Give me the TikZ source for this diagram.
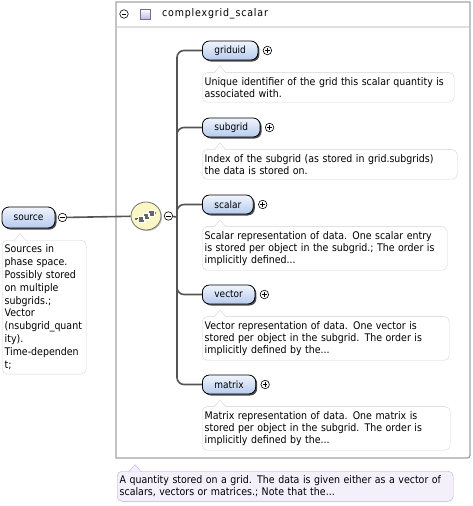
\documentclass[tikz,border=0pt]{standalone}
\usepackage{fontspec}
\setmainfont{DejaVu Sans Condensed}
\newfontfamily\headfont{DejaVu Sans Condensed}[LetterSpace=8]
\usetikzlibrary{positioning,shadows,calc,shapes.geometric}
\definecolor{elemTop}{RGB}{240,245,253}
\definecolor{elemBlue}{RGB}{182,203,238}
\definecolor{docGray}{RGB}{212,212,212}
\definecolor{frameGray}{RGB}{165,165,165}
\definecolor{wireGray}{RGB}{85,85,85}
\definecolor{seqYellow}{RGB}{251,247,196}
\definecolor{typeLilac}{RGB}{196,184,232}
\definecolor{noteLilac}{RGB}{243,240,251}
\definecolor{noteBorder}{RGB}{186,178,212}
\newcommand\notefont[1]{\fontsize{10.5}{#1}\selectfont}

\begin{document}
\begin{tikzpicture}[x=1pt, y=-1pt,
    element/.style={rectangle, draw=black, line width=0.8pt, rounded corners=7pt, top color=elemTop, bottom color=elemBlue, minimum height=19pt, inner xsep=12pt, font=\fontsize{10}{11}\selectfont, drop shadow={shadow xshift=1.5pt, shadow yshift=-1.5pt, fill=black!70, opacity=1}},
    note/.style={rectangle, draw=docGray, fill=white, rounded corners=5pt, align=left, inner xsep=2.5pt, inner ysep=4.75pt},
    notch/.style={draw=docGray, fill=white},
    toggle/.style={circle, draw=black, line width=0.6pt, fill=white, inner sep=0pt, minimum size=8.5pt},
    minusbtn/.style={toggle, path picture={\draw[line width=0.6pt] ($(path picture bounding box.center)+(-2.3,0)$) -- +(4.6,0);}},
    plusbtn/.style={toggle, path picture={\draw[line width=0.6pt] ($(path picture bounding box.center)+(-2.3,0)$) -- +(4.6,0) ($(path picture bounding box.center)+(0,-2.3)$) -- +(0,4.6);}},
    wire/.style={draw=wireGray, line width=1.6pt, rounded corners=7pt},
    frame/.style={draw=frameGray, line width=1.3pt}]

    \useasboundingbox (0,0) rectangle (473,506);

    % complexType frame
    \draw[frame] (116,458) -- (116,2) -- (470,2) -- (470,452) .. controls (470,458) .. (464,458) -- cycle;
    \draw[gray!25, line width=2pt] (117,27) -- (469,27);
    \node[minusbtn] (tminus) at (124,14) {};
    \node[rectangle, draw=typeLilac!60!black, top color=white, bottom color=typeLilac, minimum size=10pt, inner sep=0pt] (ticon) at (145,14) {};
    \node[anchor=west, inner sep=0pt, font=\headfont\fontsize{10.5}{12}\selectfont] (title) at (162,14) {complexgrid\_scalar};

    % source
    \node[element, minimum width=53pt, minimum height=21pt, inner xsep=6pt] (source) at (28.5,217.5) {source};
    \node[minusbtn, right=2.5pt of source] (sourcex) {};
    \node[note, anchor=north west, text width=79pt, font=\notefont{12.8}] (dsource) at (2,240)
        {Sources in\\phase space.\\Possibly stored\\on multiple\\subgrids.;\\Vector\\(nsubgrid\_quant\\ity).\\Time-dependen\\t;};

    % sequence
    \node[ellipse, draw=black!55, line width=0.8pt, fill=seqYellow, minimum width=30pt, minimum height=28pt, drop shadow={shadow xshift=1pt, shadow yshift=-1pt, fill=black!25, opacity=1}] (seq) at (146,216) {};
    \begin{scope}[shift={(seq.center)}]
      \draw[line width=0.8pt, black!70] (-10,3) -- (9,-3);
      \fill[black!70] (-10,3) circle (1.1) (9,-3) circle (1.1);
      \filldraw[fill=black!60, draw=white, line width=0.5pt] (-8,0) rectangle (-2,6) (-3,-3) rectangle (3,3) (2,-6) rectangle (8,0);
    \end{scope}
    \node[minusbtn, right=2.5pt of seq] (seqx) {};
    \draw[wire] (sourcex) -- (seq);
    \coordinate (trunk) at (177,217);
    \draw[wire] (seqx) -- (trunk);

    % children
    \node[element, anchor=west] (griduid) at (202,50.5) {griduid};
    \node[plusbtn, right=4.5pt of griduid] (griduidx) {};
    \node[note, below=12pt of griduid.south west, anchor=north west, text width=247pt, font=\notefont{12}] (dgriduid)
        {Unique identifier of the grid this scalar quantity is\\associated with.};

    \node[element, anchor=west] (subgrid) at (202,127.5) {subgrid};
    \node[plusbtn, right=4.5pt of subgrid] (subgridx) {};
    \node[note, below=12pt of subgrid.south west, anchor=north west, text width=250pt, font=\notefont{12}] (dsubgrid)
        {Index of the subgrid (as stored in grid.subgrids)\\the data is stored on.};

    \node[element, anchor=west] (scalar) at (202,204.5) {scalar};
    \node[plusbtn, right=4.5pt of scalar] (scalarx) {};
    \node[note, below=12pt of scalar.south west, anchor=north west, text width=240pt, font=\notefont{12}] (dscalar)
        {Scalar representation of data. One scalar entry\\is stored per object in the subgrid.; The order is\\implicitly defined...};

    \node[element, anchor=west] (vector) at (202,294.5) {vector};
    \node[plusbtn, right=4.5pt of vector] (vectorx) {};
    \node[note, below=12pt of vector.south west, anchor=north west, text width=242pt, font=\notefont{12}] (dvector)
        {Vector representation of data. One vector is\\stored per object in the subgrid. The order is\\implicitly defined by the...};

    \node[element, anchor=west] (matrix) at (202,384.5) {matrix};
    \node[plusbtn, right=4.5pt of matrix] (matrixx) {};
    \node[note, below=12pt of matrix.south west, anchor=north west, text width=243pt, font=\notefont{12}] (dmatrix)
        {Matrix representation of data. One matrix is\\stored per object in the subgrid. The order is\\implicitly defined by the...};

    \foreach \c in {griduid, subgrid, scalar, vector, matrix}
      \draw[wire] (trunk) |- (\c.west);

    % notches
    \foreach \d in {dgriduid, dsubgrid, dscalar, dvector, dmatrix, dsource}
      \filldraw[notch] ($(\d.north west)+(12,0.6)$) -- ++(6,-7) -- ++(6,7);

    % type note
    \node[note, draw=noteBorder, fill=noteLilac, anchor=north west, text width=331pt, inner ysep=4.5pt, font=\notefont{12}] (dtype) at (117,471)
        {A quantity stored on a grid. The data is given either as a vector of\\scalars, vectors or matrices.; Note that the...};
    \filldraw[draw=noteBorder, fill=noteLilac] ($(dtype.north west)+(12,0.6)$) -- ++(6,-7) -- ++(6,7);
\end{tikzpicture}
\end{document}
